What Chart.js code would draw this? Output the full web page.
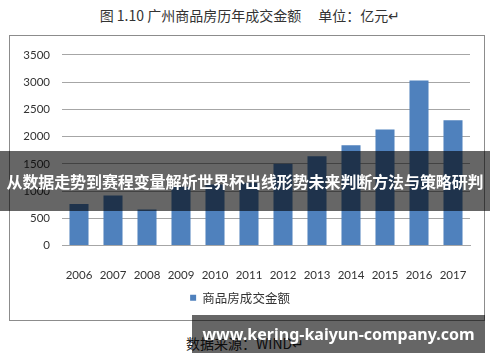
<!DOCTYPE html>
<html>
<head>
<meta charset="utf-8">
<script src="https://cdn.jsdelivr.net/npm/chart.js@4"></script>
<style>
  html, body { margin: 0; padding: 0; background: #fff; }
  body { width: 500px; height: 362px; position: relative; overflow: hidden;
         font-family: "Noto Sans CJK SC", sans-serif; }
  #title { position: absolute; left: 0; width: 500px; top: 4px; text-align: center;
           font-size: 14px; color: #333; line-height: 22px; }
  #frame { position: absolute; left: 9px; top: 35px; width: 474px; height: 284px;
           border: 1px solid #8c8c8c; }
  #source { position: absolute; left: 186px; top: 332px; font-size: 14px; color: #222;
            line-height: 22px; }
  .band { position: absolute; background: rgba(0, 0, 0, 0.6); color: #fff;
          font-weight: bold; text-align: center; white-space: nowrap; }
  #band1 { left: 0; top: 151px; width: 490px; height: 60px; line-height: 60px;
           font-size: 16px; letter-spacing: -0.1px; }
  #band2 { left: 192px; top: 315px; width: 293px; height: 38px; line-height: 38px;
           font-size: 16px; font-family: "Noto Sans", sans-serif; }
</style>
</head>
<body>
<div id="title">图 1.10&nbsp;广州商品房历年成交金额　&nbsp;单位：亿元↵</div>
<div id="frame"><canvas id="myChart" width="474" height="284"></canvas></div>
<div id="source">数据来源：WIND↵</div>
<div class="band" id="band1">从数据走势到赛程变量解析世界杯出线形势未来判断方法与策略研判</div>
<div class="band" id="band2">www.kering-kaiyun-company.com</div>
<script>
var years = ['2006', '2007', '2008', '2009', '2010', '2011', '2012', '2013', '2014', '2015', '2016', '2017'];
var amounts = [760, 920, 660, 1080, 1120, 1150, 1500, 1640, 1840, 2130, 3030, 2300];
var seriesName = '商品房成交金额';

var ctx = document.getElementById('myChart').getContext('2d');
var chart = new Chart(ctx, {
  type: 'bar',

  data: {
    labels: years,
    datasets: [
      {
        label: seriesName,
        backgroundColor: '#4f81bd',
        data: amounts,
        barPercentage: 0.56,
        categoryPercentage: 1,
      },
    ],
  },

  options: {
    responsive: false,
    animation: false,
    layout: { padding: { top: 14, right: 14, left: 0, bottom: 6 } },
    plugins: {
      legend: {
        position: 'bottom',
        labels: {
          boxWidth: 6,
          boxHeight: 6,
          padding: 10,
          color: '#333',
          font: { family: '"Noto Sans CJK SC", sans-serif', size: 12.5 },
        },
      },
      tooltip: { enabled: false },
    },
    scales: {
      y: {
        min: 0,
        max: 3500,
        ticks: {
          stepSize: 500,
          padding: 12,
          color: '#333',
          font: { family: 'Lato, sans-serif', size: 11.5 },
          callback: function (v) { return String(v); },
        },
        border: { display: false },
        grid: { color: '#a6a6a6', drawTicks: false },
        afterFit: function (s) { s.width = 52; },
      },
      x: {
        ticks: {
          padding: 15,
          color: '#333',
          font: { family: 'Lato, sans-serif', size: 11.5 },
        },
        border: { color: '#a6a6a6' },
        grid: { display: false },
        afterFit: function (s) { s.height = 36; },
      },
    },
  },
});
</script>
</body>
</html>
